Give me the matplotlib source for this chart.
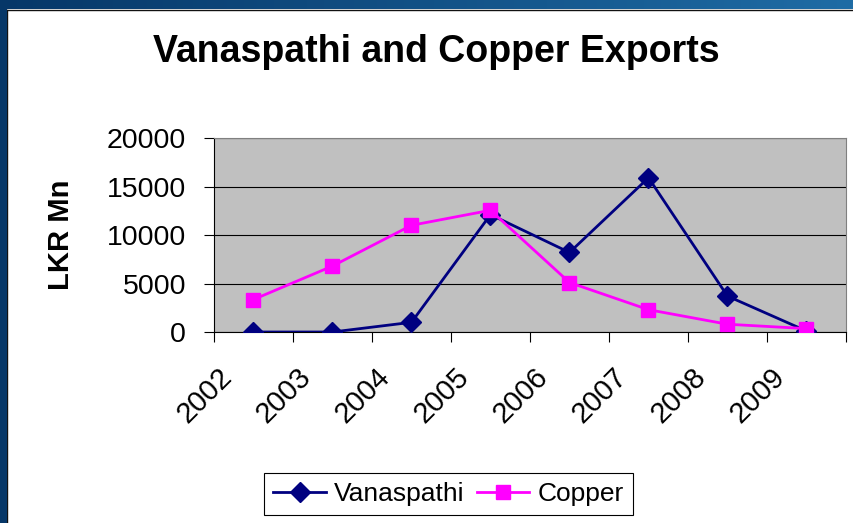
import numpy as np
import matplotlib
matplotlib.use("Agg")
import matplotlib.pyplot as plt
from matplotlib.patches import Rectangle
from matplotlib.transforms import ScaledTranslation

plt.rcParams['font.family'] = ['Liberation Sans', 'DejaVu Sans']

# data
years = ['2002', '2003', '2004', '2005', '2006', '2007', '2008', '2009']
vanaspathi = [0, 0, 1000, 12100, 8200, 15900, 3700, 100]
copper = [3350, 6800, 11000, 12550, 5100, 2300, 800, 350]
y_ticks = [0, 5000, 10000, 15000, 20000]

W, H = 854, 523
fig = plt.figure(figsize=(W / 100, H / 100), dpi=100)
fig.patch.set_facecolor('white')

# slide frame: gradient band on top, dark band on the left
band = fig.add_axes([0, 1 - 9 / H, 1, 9 / H])
grad = np.linspace(0, 1, 256).reshape(1, -1)
cmap = matplotlib.colors.LinearSegmentedColormap.from_list('frame', ['#063768', '#1f6ca5'])
band.imshow(grad, aspect='auto', cmap=cmap, extent=[0, 1, 0, 1])
band.set_axis_off()
fig.patches.append(Rectangle((0, 0), 7 / W, 1, transform=fig.transFigure,
                             facecolor='#063768', edgecolor='none', zorder=5))
fig.lines.append(plt.Line2D([7.5 / W, 7.5 / W], [0, 1 - 9.5 / H], transform=fig.transFigure,
                            color='#111111', lw=1))
fig.lines.append(plt.Line2D([7.5 / W, 1], [1 - 9.5 / H, 1 - 9.5 / H], transform=fig.transFigure,
                            color='#111111', lw=1))

ax = fig.add_axes([214 / W, (H - 332) / H, 632 / W, 194 / H])
ax.set_facecolor('#c0c0c0')
x = np.arange(len(years))
ax.plot(x, vanaspathi, color='#000080', lw=2, marker='D', markersize=10,
        label='Vanaspathi', zorder=3)
ax.plot(x, copper, color='#ff00ff', lw=2, marker='s', markersize=10,
        label='Copper', zorder=3)

ax.set_xlim(-0.5, len(years) - 0.5)
ax.set_ylim(0, 20000)
ax.set_yticks(y_ticks)
ax.set_yticklabels([str(v) for v in y_ticks])
ax.yaxis.grid(True, color='black', lw=0.8)
ax.set_axisbelow(True)

ax.set_xticks(x)
ax.set_xticklabels(years, rotation=45, ha='right', va='top')
ax.set_xticks(np.arange(-0.5, len(years)), minor=True)
ax.tick_params(axis='x', which='major', length=0, pad=22, labelsize=21)
ax.tick_params(axis='x', which='minor', length=7, width=0.8, direction='out')
ax.tick_params(axis='y', length=7, width=0.8, pad=13, labelsize=20.5)
offset = ScaledTranslation(-16 / 100, 0, fig.dpi_scale_trans)
for lab in ax.get_xticklabels():
    lab.set_transform(lab.get_transform() + offset)

for side in ['top', 'right']:
    ax.spines[side].set_color('#808080')
for side in ['left', 'bottom']:
    ax.spines[side].set_color('black')

fig.text(436 / W, 1 - 62 / H, 'Vanaspathi and Copper Exports', ha='center', va='baseline',
         fontsize=27, fontweight='bold')
fig.text(61 / W, 1 - 235 / H, 'LKR Mn', rotation=90, ha='center', va='center',
         fontsize=21, fontweight='bold')

leg = fig.legend(loc='center', bbox_to_anchor=(448.5 / W, 1 - 494 / H), ncol=2,
                 fontsize=19, frameon=True, fancybox=False, edgecolor='black',
                 framealpha=1, handlelength=2.0, handletextpad=0.3, columnspacing=0.45,
                 borderpad=0.35)
leg.get_frame().set_linewidth(0.8)

fig.savefig('out.png', dpi=100)
